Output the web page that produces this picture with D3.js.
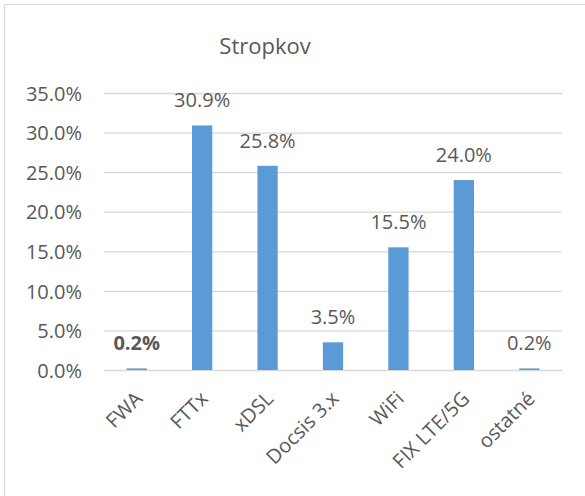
<!DOCTYPE html>
<html><head><meta charset="utf-8">
<script src="https://cdn.jsdelivr.net/npm/d3@7"></script>
<style>body{margin:0;background:#fff}svg text{font-family:"Open Sans",sans-serif;fill:#595959}</style>
</head><body>
<svg id="c" width="585" height="496"></svg>
<script>
const categories = ["FWA","FTTx","xDSL","Docsis 3.x","WiFi","FIX LTE/5G","ostatné"];
const values = [0.2,30.9,25.8,3.5,15.5,24.0,0.2];
const boldLabels = [true,false,false,false,false,false,false];
const yTicks = [0,5,10,15,20,25,30,35];
const title = "Stropkov";

const svg = d3.select("#c");
svg.append("rect").attr("x",4.5).attr("y",4.5).attr("width",600).attr("height",600)
  .attr("fill","#fff").attr("stroke","#d9d9d9").attr("stroke-width",1);

const x = d3.scaleBand().domain(categories).range([104,562]).paddingInner(0.69).paddingOuter(0.345);
const y = d3.scaleLinear().domain([0,35]).range([370,93]);

svg.append("text").attr("x",265).attr("y",54).attr("text-anchor","middle")
  .style("font-size","22px").text(title);

const yAxis = svg.append("g").attr("transform","translate(104,0)")
  .call(d3.axisLeft(y).tickValues(yTicks).tickSize(-458).tickFormat(d=>d.toFixed(1)+"%"));
yAxis.select(".domain").remove();
yAxis.selectAll(".tick line").attr("stroke","#d9d9d9").attr("stroke-width",1.3);
yAxis.selectAll(".tick text").attr("x",-22).style("font-size","20px").attr("fill","#595959").attr("dy","0.36em");

svg.append("g").selectAll("rect").data(values).join("rect")
  .attr("x",(d,i)=>x(categories[i])).attr("width",x.bandwidth())
  .attr("y",d=>y(d)).attr("height",d=>y(0)-y(d)).attr("fill","#5b9bd5");

svg.append("g").selectAll("text").data(values).join("text")
  .attr("x",(d,i)=>x(categories[i])+x.bandwidth()/2).attr("y",d=>y(d)-18)
  .attr("text-anchor","middle").style("font-size","20px")
  .style("font-weight",(d,i)=>boldLabels[i]?"bold":"normal")
  .text(d=>d.toFixed(1)+"%");

const xAxis = svg.append("g").attr("transform","translate(0,370)")
  .call(d3.axisBottom(x).tickSize(0).tickFormat(d=>d));
xAxis.select(".domain").remove();
xAxis.selectAll(".tick text").attr("text-anchor","end").attr("dy","0.35em")
  .attr("transform","translate(2,25) rotate(-45)").attr("y",0).attr("x",0)
  .style("font-size","20px").attr("fill","#595959");
</script>
</body></html>
